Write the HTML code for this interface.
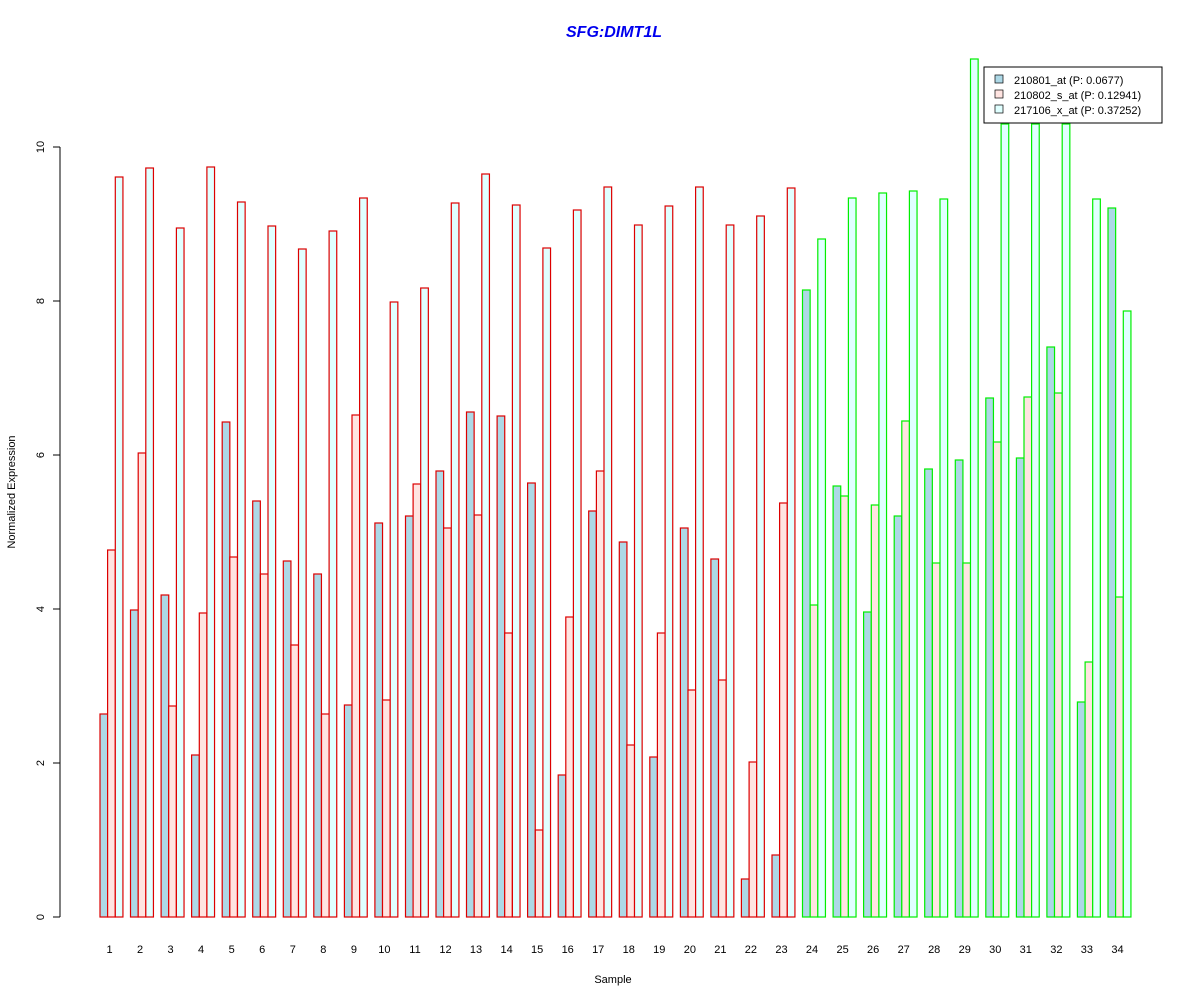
<!DOCTYPE html>
<html><head><meta charset="utf-8"><style>body{margin:0;background:#fff}</style></head><body>
<svg id="s" width="1200" height="1000" xmlns="http://www.w3.org/2000/svg" font-family="Liberation Sans, sans-serif">
<rect width="1200" height="1000" fill="#fff"/>
<text x="614" y="37" text-anchor="middle" font-size="16" font-weight="bold" font-style="italic" fill="#0000ee">SFG:DIMT1L</text>
<g id="bars"></g>
<line x1="60" y1="147" x2="60" y2="917" stroke="#000"/>
<g id="ticks" font-size="11"></g>
<text x="613" y="983" text-anchor="middle" font-size="11">Sample</text>
<text transform="translate(15,492) rotate(-90)" text-anchor="middle" font-size="11">Normalized Expression</text>
<rect x="984" y="67" width="178" height="56" fill="#fff" stroke="#000"/>
<rect x="995" y="75" width="8" height="8" fill="#add8e6" stroke="#000" stroke-width="0.7"/>
<rect x="995" y="90" width="8" height="8" fill="#ffe4e1" stroke="#000" stroke-width="0.7"/>
<rect x="995" y="105" width="8" height="8" fill="#e0ffff" stroke="#000" stroke-width="0.7"/>
<text x="1014" y="84" font-size="11">210801_at (P: 0.0677)</text>
<text x="1014" y="99" font-size="11">210802_s_at (P: 0.12941)</text>
<text x="1014" y="114" font-size="11">217106_x_at (P: 0.37252)</text>
</svg>
<script>
var d=[[714,550,177],[610,453,168],[595,706,228],[755,613,167],[422,557,202],[501,574,226],[561,645,249],[574,714,231],[705,415,198],[523,700,302],[516,484,288],[471,528,203],[412,515,174],[416,633,205],[483,830,248],[775,617,210],[511,471,187],[542,745,225],[757,633,206],[528,690,187],[559,680,225],[879,762,216],[855,503,188],[290,605,239],[486,496,198],[612,505,193],[516,421,191],[469,563,199],[460,563,59],[398,442,124],[458,397,124],[347,393,124],[702,662,199],[208,597,311]];
var f=["#add8e6","#ffe4e1","#e0ffff"],h="",w=30.545/4;
d.forEach(function(g,i){var x0=100+i*30.545,c=i<23?"#dd0000":"#00ee00";
g.forEach(function(y,j){h+='<rect x="'+(x0+j*w).toFixed(1)+'" y="'+y+'" width="'+w.toFixed(2)+'" height="'+(917-y)+'" fill="'+f[j]+'" stroke="'+c+'" stroke-width="1.2"/>';});
h+='<text x="'+(x0+9.5).toFixed(1)+'" y="953" text-anchor="middle" font-size="11">'+(i+1)+'</text>';});
document.getElementById("bars").innerHTML=h;
var t="";for(var k=0;k<=10;k+=2){var y=917-77*k;t+='<line x1="53" y1="'+y+'" x2="60" y2="'+y+'" stroke="#000"/><text transform="translate(44,'+y+') rotate(-90)" text-anchor="middle" font-size="11">'+k+'</text>';}
document.getElementById("ticks").innerHTML=t;
</script>
</body></html>
